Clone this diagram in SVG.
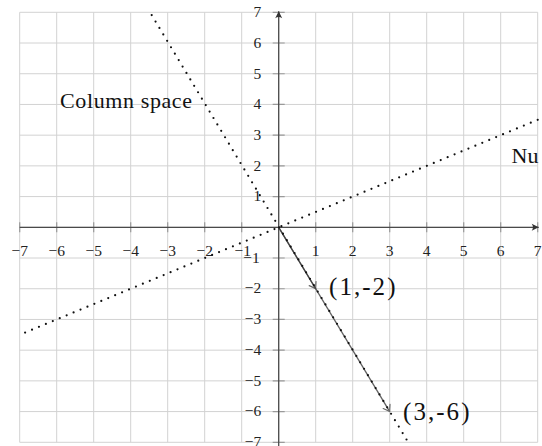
<svg xmlns="http://www.w3.org/2000/svg" width="542" height="446" viewBox="0 0 542 446">
  <style>
    .grid { stroke: #d2d2d2; stroke-width: 1; fill: none; }
    .tick { stroke: #9a9a9a; stroke-width: 1.2; fill: none; }
    .axis { stroke: #4a4a4a; stroke-width: 1.3; fill: none; }
    .dots { stroke: #111; stroke-width: 2.2; stroke-linecap: round; stroke-dasharray: 0 7.5; fill: none; }
    .vec { stroke: #3a3a3a; stroke-width: 1.3; fill: none; stroke-opacity: 0.8; }
    .num { font-family: "Liberation Serif", "Times New Roman", serif; font-size: 15.5px; fill: #222; }
    .lbl { font-family: "Liberation Serif", "Times New Roman", serif; font-size: 22px; fill: #111; }
    .pt { font-family: "Liberation Serif", "Times New Roman", serif; font-size: 25px; fill: #111; }
  </style>
  <defs>
    <marker id="axisArrow" markerUnits="userSpaceOnUse" viewBox="-8 -5 10 10" markerWidth="10" markerHeight="10" refX="0" refY="0" orient="auto" overflow="visible">
      <path d="M0,0 L-7,-3.5 Q-4.5,0 -7,3.5 Z" fill="#333"/>
    </marker>
    <marker id="vecArrow" markerUnits="userSpaceOnUse" viewBox="-8 -5 10 10" markerWidth="10" markerHeight="10" refX="0" refY="0" orient="auto" overflow="visible">
      <path d="M-6,-4 Q-2,-1.2 0,0 Q-2,1.2 -6,4" fill="none" stroke="#6a6a6a" stroke-width="1.2" stroke-linecap="round"/>
    </marker>
  </defs>
  <rect x="0" y="0" width="542" height="446" fill="#ffffff"/>
  <g transform="translate(278.7,227.3)">
    <g id="grid">
      <path class="grid" d="M-259,-215V215 M-222,-215V215 M-185,-215V215 M-148,-215V215 M-111,-215V215 M-74,-215V215 M-37,-215V215 M0,-215V215 M37,-215V215 M74,-215V215 M111,-215V215 M148,-215V215 M185,-215V215 M222,-215V215 M259,-215V215
        M-259,-215H259 M-259,-184.29H259 M-259,-153.57H259 M-259,-122.86H259 M-259,-92.14H259 M-259,-61.43H259 M-259,-30.71H259 M-259,0H259 M-259,30.71H259 M-259,61.43H259 M-259,92.14H259 M-259,122.86H259 M-259,153.57H259 M-259,184.29H259 M-259,215H259"/>
    </g>
    <g id="ticks">
      <path class="tick" d="M-6,-215H6 M-6,-184.29H6 M-6,-153.57H6 M-6,-122.86H6 M-6,-92.14H6 M-6,-61.43H6 M-6,-30.71H6 M-6,30.71H6 M-6,61.43H6 M-6,92.14H6 M-6,122.86H6 M-6,153.57H6 M-6,184.29H6 M-6,215H6
        M-259,-5V5 M-222,-5V5 M-185,-5V5 M-148,-5V5 M-111,-5V5 M-74,-5V5 M-37,-5V5 M37,-5V5 M74,-5V5 M111,-5V5 M148,-5V5 M185,-5V5 M222,-5V5 M259,-5V5"/>
    </g>
    <g id="axes">
      <line class="axis" x1="-259" y1="0" x2="260" y2="0" marker-end="url(#axisArrow)"/>
      <line class="axis" x1="0" y1="220" x2="0" y2="-216" marker-end="url(#axisArrow)"/>
    </g>
    <g id="x-labels" class="num" text-anchor="middle">
      <text x="-259" y="28.7">−7</text>
      <text x="-222" y="28.7">−6</text>
      <text x="-185" y="28.7">−5</text>
      <text x="-148" y="28.7">−4</text>
      <text x="-111" y="28.7">−3</text>
      <text x="-74" y="28.7">−2</text>
      <text x="-36" y="28.7">−1</text>
      <text x="37" y="28.7">1</text>
      <text x="74" y="28.7">2</text>
      <text x="111" y="28.7">3</text>
      <text x="148" y="28.7">4</text>
      <text x="185" y="28.7">5</text>
      <text x="222" y="28.7">6</text>
      <text x="259" y="28.7">7</text>
    </g>
    <g id="y-labels" class="num" text-anchor="end">
      <text x="-17.5" y="-210.2">7</text>
      <text x="-17.5" y="-179.5">6</text>
      <text x="-17.5" y="-148.8">5</text>
      <text x="-17.5" y="-118.1">4</text>
      <text x="-17.5" y="-87.4">3</text>
      <text x="-17.5" y="-56.6">2</text>
      <text x="-17.5" y="-25.9">1</text>
      <text x="-19" y="35.5">−1</text>
      <text x="-17.5" y="66.2">−2</text>
      <text x="-17.5" y="96.9">−3</text>
      <text x="-17.5" y="127.7">−4</text>
      <text x="-17.5" y="158.4">−5</text>
      <text x="-17.5" y="189.1">−6</text>
      <text x="-17.5" y="219.8">−7</text>
    </g>
    <g id="connectors">
      <line id="vec-1-2" class="vec" x1="0" y1="0" x2="37" y2="61.43" marker-end="url(#vecArrow)"/>
      <line id="vec-3-6" class="vec" x1="0" y1="0" x2="111" y2="184.29" marker-end="url(#vecArrow)"/>
      <line id="column-space-line" class="dots" x1="-127" y1="-212.2" x2="129.5" y2="215"/>
      <line id="null-space-line" class="dots" x1="259" y1="-107.5" x2="-259" y2="107.5"/>
    </g>
  </g>
  <g id="label-column-space">
    <text class="lbl" x="60" y="108.3" textLength="132" lengthAdjust="spacing">Column space</text>
  </g>
  <g id="label-null-space">
    <text class="lbl" x="511.5" y="163.3">Nu</text>
  </g>
  <g id="label-point-1">
    <text class="pt" x="329" y="295" textLength="66.5" lengthAdjust="spacing">(1,-2)</text>
  </g>
  <g id="label-point-2">
    <text class="pt" x="403" y="419.5" textLength="66.5" lengthAdjust="spacing">(3,-6)</text>
  </g>
</svg>
